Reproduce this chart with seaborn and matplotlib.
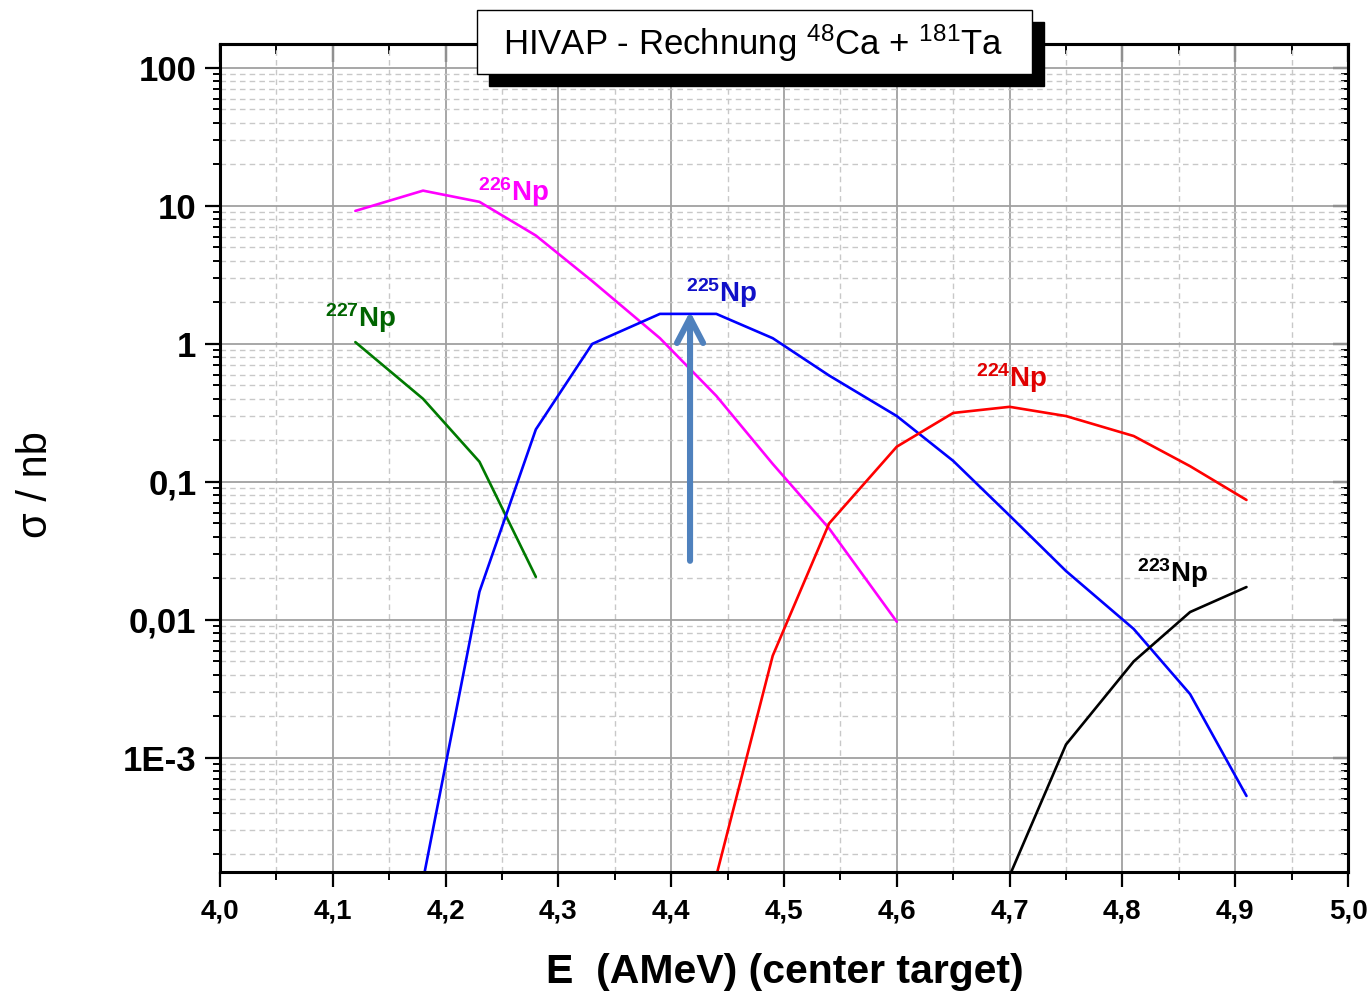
import matplotlib
matplotlib.use("Agg")
import matplotlib.pyplot as plt
import seaborn as sns
import numpy as np
import pandas as pd
from matplotlib.patches import Rectangle
from matplotlib.ticker import FixedLocator, LogLocator, NullFormatter, MultipleLocator

# ---------------- data ----------------
e_226 = [4.12, 4.18, 4.23, 4.28, 4.33, 4.39, 4.44, 4.49, 4.54, 4.60]
s_226 = [9.2, 12.9, 10.7, 6.1, 2.85, 1.1, 0.42, 0.135, 0.046, 0.0097]

e_227 = [4.12, 4.18, 4.23, 4.28]
s_227 = [1.03, 0.40, 0.14, 0.0205]

e_225 = [4.18, 4.23, 4.28, 4.33, 4.39, 4.44, 4.49, 4.54, 4.60, 4.65, 4.70, 4.75, 4.81, 4.86, 4.91]
s_225 = [1.3e-4, 0.016, 0.24, 1.0, 1.65, 1.65, 1.1, 0.59, 0.30, 0.142, 0.057, 0.0226, 0.0086, 0.0029, 5.3e-4]

e_224 = [4.44, 4.49, 4.54, 4.60, 4.65, 4.70, 4.75, 4.81, 4.86, 4.91]
s_224 = [1.4e-4, 0.0055, 0.05, 0.18, 0.316, 0.35, 0.30, 0.215, 0.13, 0.074]

e_223 = [4.70, 4.75, 4.81, 4.86, 4.91]
s_223 = [1.4e-4, 0.00125, 0.005, 0.0114, 0.0173]

x_ticks = [4.0, 4.1, 4.2, 4.3, 4.4, 4.5, 4.6, 4.7, 4.8, 4.9, 5.0]
x_ticklabels = ["4,0", "4,1", "4,2", "4,3", "4,4", "4,5", "4,6", "4,7", "4,8", "4,9", "5,0"]
y_ticks = [100, 10, 1, 0.1, 0.01, 0.001]
y_ticklabels = ["100", "10", "1", "0,1", "0,01", "1E-3"]

# label annotations: (text, x, y, color)
labels = [
    (r"$^{\mathbf{226}}$Np", 4.229, 10.9, "#FF00FF"),
    (r"$^{\mathbf{227}}$Np", 4.093, 1.33, "#006400"),
    (r"$^{\mathbf{225}}$Np", 4.413, 2.01, "#1010C8"),
    (r"$^{\mathbf{224}}$Np", 4.670, 0.487, "#E00000"),
    (r"$^{\mathbf{223}}$Np", 4.813, 0.0188, "#000000"),
]
arrow_x = 4.4167
arrow_y0 = 0.0268
arrow_y1 = 1.72

# ---------------- style ----------------
sns.set_theme(style="white")
plt.rcParams["font.family"] = ["Liberation Sans", "DejaVu Sans"]
plt.rcParams["mathtext.fontset"] = "custom"
plt.rcParams["mathtext.rm"] = "Liberation Sans"
plt.rcParams["mathtext.bf"] = "Liberation Sans:bold"
plt.rcParams["mathtext.it"] = "Liberation Sans:italic"
plt.rcParams["text.color"] = "black"
plt.rcParams["axes.labelcolor"] = "black"
plt.rcParams["xtick.color"] = "black"
plt.rcParams["ytick.color"] = "black"

fig = plt.figure(figsize=(13.7, 9.97), dpi=100)
fig.patch.set_facecolor("white")
ax = fig.add_axes([220 / 1370, 1 - 872 / 997, (1348 - 220) / 1370, (872 - 44) / 997])
ax.set_facecolor("white")

series = [
    (e_226, s_226, "#FF00FF"),
    (e_227, s_227, "#007A00"),
    (e_225, s_225, "#0000FF"),
    (e_224, s_224, "#FF0000"),
    (e_223, s_223, "#000000"),
]
for ex, sy, col in series:
    sns.lineplot(x=ex, y=sy, ax=ax, color=col, lw=1.9, sort=False, estimator=None)

ax.set_yscale("log")
ax.set_xlim(4.0, 5.0)
ax.set_ylim(1.49e-4, 149)

ax.xaxis.set_major_locator(FixedLocator(x_ticks))
ax.set_xticklabels(x_ticklabels)
ax.xaxis.set_minor_locator(MultipleLocator(0.05))
ax.yaxis.set_major_locator(FixedLocator(y_ticks))
ax.set_yticklabels(y_ticklabels)
ax.yaxis.set_minor_locator(LogLocator(base=10, subs=np.arange(2, 10), numticks=20))
ax.yaxis.set_minor_formatter(NullFormatter())

ax.set_axisbelow(True)
ax.grid(which="major", color="#a0a0a0", lw=1.3, ls="-")
ax.grid(which="minor", color="#c8c8c8", lw=1.0, ls=(0, (4, 3)))

for sp in ax.spines.values():
    sp.set_color("black")
    sp.set_linewidth(2.2)

ax.tick_params(axis="x", which="major", bottom=True, top=False, direction="out",
               length=11, width=1.6, color="black", labelcolor="black", labelsize=20, pad=8)
ax.tick_params(axis="x", which="minor", bottom=True, top=False, direction="out",
               length=6, width=1.4, color="black")
ax.tick_params(axis="y", which="major", left=True, right=False, direction="out",
               length=11, width=1.6, color="black", labelcolor="black", labelsize=25, pad=6)
ax.tick_params(axis="y", which="minor", left=True, right=False, direction="out",
               length=5, width=1.4, color="black")
for lab in ax.get_xticklabels() + ax.get_yticklabels():
    lab.set_fontweight("bold")

# mirrored inward ticks on top and right
axt = ax.secondary_xaxis("top")
axt.xaxis.set_major_locator(FixedLocator(x_ticks))
axt.xaxis.set_minor_locator(MultipleLocator(0.05))
axt.tick_params(which="major", direction="in", length=13, width=1.6, labeltop=False, color="black")
axt.tick_params(which="minor", direction="in", length=7, width=1.4, color="black")
axt.spines["top"].set_linewidth(2.2)
axr = ax.secondary_yaxis("right")
axr.yaxis.set_major_locator(FixedLocator(y_ticks))
axr.yaxis.set_minor_locator(LogLocator(base=10, subs=np.arange(2, 10), numticks=20))
axr.yaxis.set_minor_formatter(NullFormatter())
axr.tick_params(which="major", direction="in", length=11, width=1.6, labelright=False, color="black")
axr.tick_params(which="minor", direction="in", length=5, width=1.4, color="black")
axr.spines["right"].set_linewidth(2.2)

# curve labels
for txt, lx, ly, col in labels:
    ax.text(lx, ly, txt, color=col, fontsize=20, fontweight="bold",
            ha="left", va="baseline")

# arrow
ax.annotate("", xy=(arrow_x, arrow_y1), xytext=(arrow_x, arrow_y0),
            arrowprops=dict(arrowstyle="->,head_length=0.9,head_width=0.47",
                            mutation_scale=20, color="#4F81BD", lw=4.4,
                            shrinkA=0, shrinkB=0))

# axis labels
fig.text(785 / 1370, 1 - 972 / 997, "E  (AMeV) (center target)", fontsize=29.5,
         fontweight="bold", ha="center", va="center", color="black")
fig.text(36 / 1370, 1 - 485 / 997, "σ / nb", fontsize=30, rotation=90,
         ha="center", va="center", color="black")

# title box with shadow
fig.add_artist(Rectangle((489 / 1370, 1 - 86 / 997), 555 / 1370, 64 / 997,
                         transform=fig.transFigure, facecolor="black",
                         edgecolor="black", zorder=5))
fig.add_artist(Rectangle((477 / 1370, 1 - 74 / 997), 555 / 1370, 64 / 997,
                         transform=fig.transFigure, facecolor="white",
                         edgecolor="black", lw=1.0, zorder=6))
fig.text(753 / 1370, 1 - 43 / 997, r"HIVAP - Rechnung $^{48}$Ca + $^{181}$Ta",
         fontsize=25, ha="center", va="center", zorder=7, color="black")

fig.savefig("out.png", dpi=100, facecolor="white")
